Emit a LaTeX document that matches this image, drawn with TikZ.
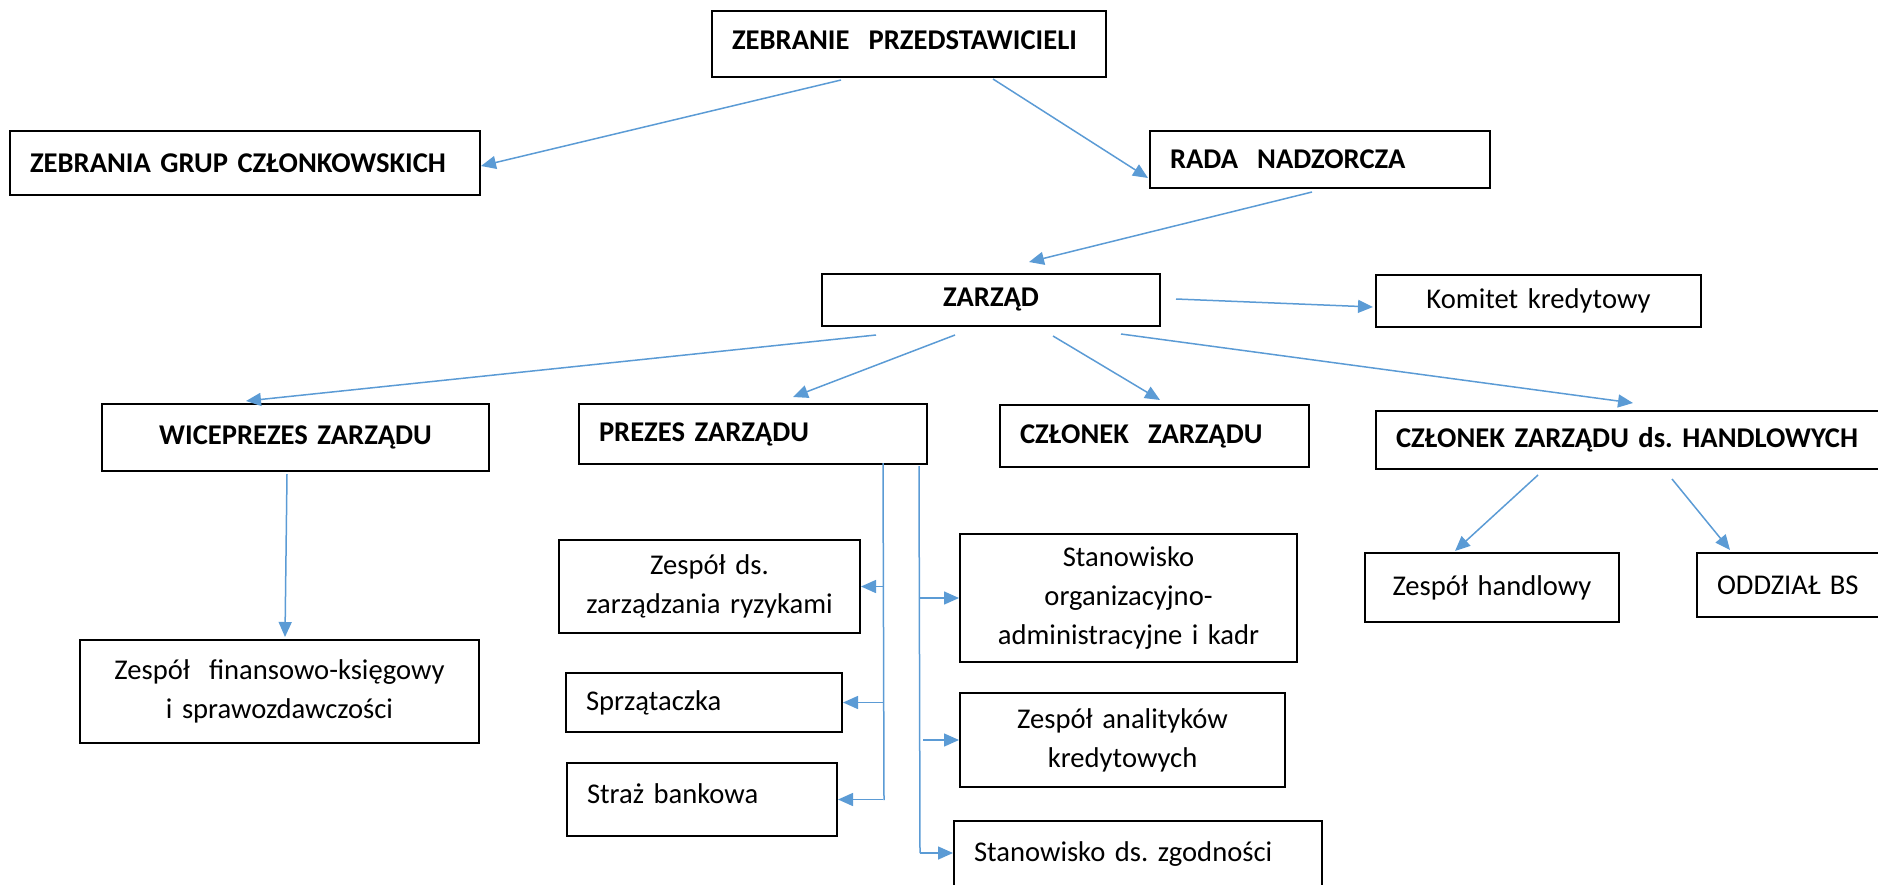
\documentclass[tikz,border=0pt]{standalone}
\usepackage{fontspec}
\setmainfont{Carlito}
\usetikzlibrary{arrows.meta,calc}
\definecolor{linkblue}{HTML}{5B9BD5}
\tikzset{
  box/.style={draw=black,line width=1pt,rectangle,inner xsep=10pt,inner ysep=0pt},
  conn/.style={draw=linkblue,line width=0.75pt},
  arr/.style={conn,-{Triangle[length=7.5pt,width=6.5pt]}},
}
\newcommand{\bx}[8]{%
  \pgfmathsetmacro{\bxw}{(#4-#2)/2}%
  \pgfmathsetmacro{\bxh}{(#5-#3)/2}%
  \pgfmathsetmacro{\bxtw}{(#4-#2)/2-20}%
  \node[box,font=#7,align=#6,minimum width=\bxw pt,minimum height=\bxh pt,text width=\bxtw pt] (#1) at ({(#2+#4)/2},{(#3+#5)/2}) {#8};}
\frenchspacing
\begin{document}
\begin{tikzpicture}[x=0.5pt,y=-0.5pt]
\useasboundingbox (0,0) rectangle (1878,884);
\clip (0,0) rectangle (1878,884);
\fontsize{14.3}{19.5}\selectfont
\bx{zp}{712}{11}{1106}{77}{left}{\bfseries}{\raisebox{4pt}{ZEBRANIE\ \ PRZEDSTAWICIELI}}
\bx{zg}{10}{131}{480}{195}{left}{\bfseries}{ZEBRANIA GRUP CZŁONKOWSKICH}
\bx{rada}{1150}{131}{1490}{188}{left}{\bfseries}{RADA\ \ NADZORCZA}
\bx{zarz}{822}{274}{1160}{326}{center}{\bfseries}{ZARZĄD}
\bx{kom}{1376}{275}{1701}{327}{center}{}{Komitet kredytowy}
\bx{wice}{102}{404}{489}{471}{center}{\bfseries}{WICEPREZES ZARZĄDU}
\bx{prez}{579}{404}{927}{464}{left}{\bfseries}{PREZES ZARZĄDU}
\bx{czl}{1000}{405}{1309}{467}{left}{\bfseries}{CZŁONEK\ \ ZARZĄDU}
\bx{handl}{1376}{411}{1892}{469}{left}{\bfseries}{CZŁONEK ZARZĄDU ds. HANDLOWYCH}
\bx{zh}{1365}{553}{1619}{622}{center}{}{Zespół handlowy}
\bx{oddz}{1697}{553}{1892}{617}{left}{}{ODDZIAŁ BS}
\bx{fin}{80}{640}{479}{743}{center}{}{Zespół\ \ finansowo-księgowy\\i sprawozdawczości}
\bx{ryz}{559}{540}{860}{633}{center}{}{Zespół ds.\\zarządzania ryzykami}
\bx{org}{960}{534}{1297}{662}{center}{}{Stanowisko\\organizacyjno-\\administracyjne i kadr}
\bx{sprz}{566}{673}{842}{732}{left}{}{Sprzątaczka}
\bx{straz}{567}{763}{837}{836}{left}{}{\raisebox{6pt}{Straż bankowa}}
\bx{anal}{960}{693}{1285}{787}{center}{}{Zespół analityków\\kredytowych}
\bx{zgod}{954}{821}{1322}{887}{left}{}{Stanowisko ds. zgodności}
% top-level connectors
\draw[arr] ($(zp.south west)+(130,2)$) -- ($(zg.east)+(0,3)$);
\draw[arr] ($(zp.south west)+(282,1)$) -- ($(rada.south west)+(-1,-11)$);
\draw[arr] ($(rada.south west)+(163,3)$) -- ($(zarz.north west)+(208,-11)$);
\draw[arr] ($(zarz.east)+(15,-1)$) -- ($(kom.west)+(-2,6)$);
\draw[arr] ($(zarz.south west)+(55,8)$) -- ($(wice.north west)+(145,-2)$);
\draw[arr] ($(zarz.south west)+(134,8)$) -- ($(prez.north west)+(215,-6)$);
\draw[arr] ($(zarz.south west)+(232,9)$) -- ($(czl.north west)+(161,-4)$);
\draw[arr] ($(zarz.south west)+(300,7)$) -- ($(handl.north west)+(258,-7)$);
\draw[arr] ($(wice.south west)+(186,2)$) -- ($(fin.north west)+(206,-2)$);
\draw[arr] ($(handl.south west)+(163,5)$) -- ($(zh.north west)+(91,-1)$);
\draw[arr] ($(handl.south west)+(297,9)$) -- ($(oddz.north west)+(34,-2)$);
% prezes left trunk
\coordinate (lt) at ($(prez.south west)+(305,-2)$);
\coordinate (lb) at (884,800);
\draw[conn] (lt) -- (lb);
\draw[arr] (lt |- ryz.east) -- (ryz.east);
\draw[arr] (lt |- sprz.east) -- (sprz.east);
\draw[arr] (lt |- straz.east) -- (straz.east);
% prezes right trunk
\coordinate (rt) at ($(prez.south west)+(341,1)$);
\coordinate (rb) at (920,853);
\draw[conn] (rt) -- (rb);
\draw[arr] (rt |- org.west) -- (org.west);
\draw[arr] ($(rt |- anal.west)+(4,0)$) -- (anal.west);
\draw[arr] (rb) -- (rb -| zgod.west);
\end{tikzpicture}
\end{document}
